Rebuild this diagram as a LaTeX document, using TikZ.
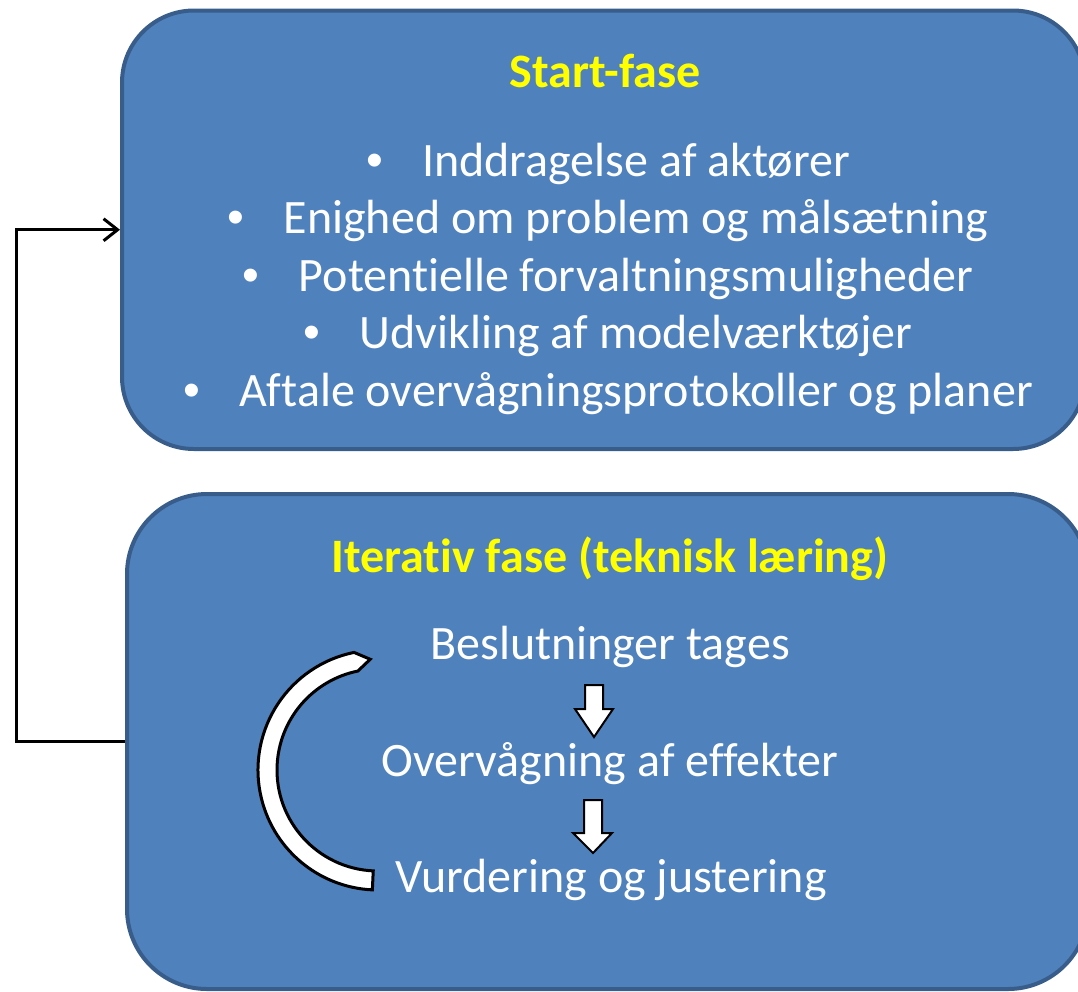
\documentclass[tikz,border=0pt]{standalone}
\usepackage{fontspec}
\setmainfont{Carlito}[RawFeature=-liga]
\newfontfamily\bulletfont{Liberation Sans}
\usetikzlibrary{arrows.meta}
\definecolor{boxfill}{HTML}{4F81BD}
\definecolor{boxline}{HTML}{385D8A}
\definecolor{titleyellow}{HTML}{FFFF00}
\tikzset{
  phasebox/.style={draw=boxline, fill=boxfill, line width=4pt, inner sep=0pt},
  titletext/.style={text=titleyellow, font=\bfseries\fontsize{48}{57}\selectfont, anchor=base, inner sep=0pt},
  bullettext/.style={text=white, font=\fontsize{48}{57}\selectfont, anchor=base, inner sep=0pt},
  steptext/.style={text=white, font=\fontsize{48}{57}\selectfont, anchor=base, inner sep=0pt},
  blockarrow/.style={draw=black, fill=white, line width=2pt, line join=miter},
  looparrow/.style={draw=black, fill=white, line width=3pt, line join=miter},
  conn/.style={draw=black, line width=3pt, -{Straight Barb[length=14pt,width=22pt]}},
}
\newcommand{\bul}[1]{\makebox[56pt][l]{\bulletfont •}#1}
\begin{document}
\begin{tikzpicture}[x=1pt,y=1pt]
\useasboundingbox (0,0) rectangle (1078,-991);
\clip (0,0) rectangle (1078,-991);
% boxes
\node[phasebox, rounded corners=72pt, minimum width=963pt, minimum height=438.5pt] (top) at (603.5,-229.75) {};
\node[phasebox, rounded corners=80pt, minimum width=961pt, minimum height=495pt] (bot) at (607.5,-741.5) {};
% top box texts
\node[titletext] (t1) at (605,-87) {Start-fase};
\node[bullettext] (b1) at (608,-176) {\bul{Inddragelse af aktører}};
\node[bullettext] (b2) at (608,-233.5) {\bul{Enighed om problem og målsætning}};
\node[bullettext] (b3) at (608,-291) {\bul{Potentielle forvaltningsmuligheder}};
\node[bullettext] (b4) at (608,-348.5) {\bul{Udvikling af modelværktøjer}};
\node[bullettext] (b5) at (608,-406) {\bul{Aftale overvågningsprotokoller og planer}};
% bottom box texts
\node[titletext] (t2) at (610,-572) {Iterativ fase (teknisk læring)};
\node[steptext] (s1) at (610,-659) {Beslutninger tages};
\node[steptext] (s2) at (610,-776) {Overvågning af effekter};
\node[steptext] (s3) at (611,-892) {Vurdering og justering};
% block arrows
\draw[blockarrow] (585,-685) -- (603,-685) -- (603,-709) -- (613,-709) -- (594,-737) -- (575,-709) -- (585,-709) -- cycle;
\draw[blockarrow] (584,-800) -- (602,-800) -- (602,-833) -- (612,-833) -- (593,-853) -- (573,-833) -- (584,-833) -- cycle;
% curved loop arrow
\draw[looparrow, shift={(378,-770)}] (101.5:120) arc[start angle=101.5, end angle=267.3, radius=120]
  -- (267.3:101) arc[start angle=267.3, end angle=101.5, radius=101] -- (94:111) -- cycle;
% connector
\coordinate (lft) at (16,-744);
\draw[conn] (bot.west) -- (bot.west -| lft) |- (top.west);
\end{tikzpicture}
\end{document}
